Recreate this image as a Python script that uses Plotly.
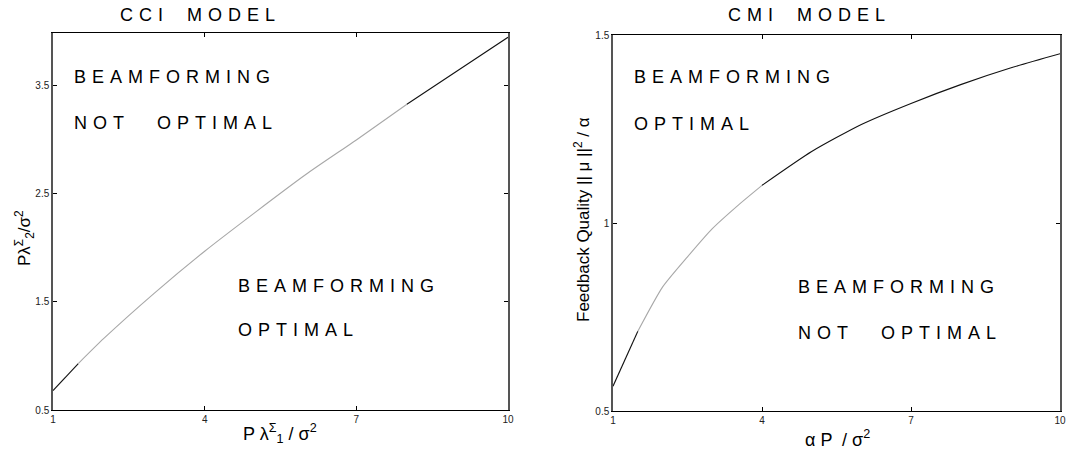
import plotly.graph_objects as go

# ---- data ----
cci_x = [1, 1.5, 2, 3, 4, 5, 6, 7, 8, 9, 10]
cci_y = [0.68, 0.93, 1.16, 1.58, 1.97, 2.33, 2.68, 3.0, 3.33, 3.64, 3.95]
cmi_x = [1, 1.5, 2, 2.5, 3, 3.5, 4, 5, 6, 7, 8, 9, 10]
cmi_y = [0.566, 0.712, 0.83, 0.91, 0.985, 1.045, 1.10, 1.19, 1.262, 1.318, 1.368, 1.412, 1.45]
x_ticks = [1, 4, 7, 10]
cci_yticks = [0.5, 1.5, 2.5, 3.5]
cmi_yticks = [0.5, 1, 1.5]

W, H = 1087, 454
def px(x):
    return x / W
def py(y):
    return 1 - y / H

SP = "\u2004"
WG = "\u2003\u2004"
WG2 = "\u2003\u2002\u2004"
def spaced(word):
    return SP.join(list(word))

fig = go.Figure()
DARK = "#111111"
LIGHT = "#a8a8a8"

def add_segments(xs, ys, cuts, colors, xa, ya):
    for (a, b), c in zip(cuts, colors):
        fig.add_trace(go.Scatter(x=xs[a:b], y=ys[a:b], mode="lines",
                                 line=dict(color=c, width=1.1, shape="spline", smoothing=0.6),
                                 xaxis=xa, yaxis=ya, showlegend=False,
                                 hoverinfo="skip"))

add_segments(cci_x, cci_y, [(0, 2), (1, 9), (8, 11)], [DARK, LIGHT, DARK], "x", "y")
add_segments(cmi_x, cmi_y, [(0, 2), (1, 7), (6, 13)], [DARK, LIGHT, DARK], "x2", "y2")

tickfont = dict(family="Liberation Sans, Arial, sans-serif", size=10, color="#222")
common_x = dict(tickmode="array", tickvals=x_ticks, ticktext=[str(v) for v in x_ticks],
                range=[1, 10], showgrid=False, zeroline=False, showline=True,
                linecolor="black", linewidth=1.2, mirror="ticks", ticks="inside",
                ticklen=4, tickcolor="black", tickfont=tickfont, automargin=False)
common_y = dict(showgrid=False, zeroline=False, showline=True,
                linecolor="#555", linewidth=1.5, mirror="ticks", ticks="inside",
                ticklen=4, tickcolor="black", tickfont=tickfont, tickmode="array",
                automargin=False)

fig.update_layout(
    width=W, height=H, margin=dict(l=0, r=0, t=0, b=0, pad=0, autoexpand=False),
    paper_bgcolor="white", plot_bgcolor="white", showlegend=False,
    xaxis=dict(domain=[px(53), px(508)], anchor="y", **common_x),
    yaxis=dict(domain=[py(410), py(33)], anchor="x", range=[0.5, 3.99],
               tickvals=cci_yticks, ticktext=["0.5", "1.5", "2.5", "3.5"], **common_y),
    xaxis2=dict(domain=[px(613), px(1060)], anchor="y2", **common_x),
    yaxis2=dict(domain=[py(411), py(35)], anchor="x2", range=[0.5, 1.5],
                tickvals=cmi_yticks, ticktext=["0.5", "1", "1.5"], **common_y),
)

FONT = "Liberation Sans, Arial, sans-serif"
def ann(text, x, y, size=18, xanchor="left", angle=0):
    fig.add_annotation(text=text, x=px(x), y=py(y), xref="paper", yref="paper",
                       xanchor=xanchor, yanchor="middle", showarrow=False,
                       textangle=angle,
                       font=dict(family=FONT, size=size, color="black"))

ann(spaced("CCI") + WG + spaced("MODEL"), 197, 15, size=18, xanchor="center")
ann(spaced("CMI") + WG + spaced("MODEL"), 806, 15, size=18, xanchor="center")
ann(spaced("BEAMFORMING"), 72, 77)
ann(spaced("NOT") + WG2 + spaced("OPTIMAL"), 72, 123)
ann(spaced("BEAMFORMING"), 236, 286)
ann(spaced("OPTIMAL"), 236, 330)
ann(spaced("BEAMFORMING"), 632, 77)
ann(spaced("OPTIMAL"), 632, 124)
ann(spaced("BEAMFORMING"), 796, 287)
ann(spaced("NOT") + WG2 + spaced("OPTIMAL"), 796, 333)
ann("P λ<sup>Σ</sup><sub>1</sub> / σ<sup>2</sup>", 280, 433, size=18, xanchor="center")
ann("Pλ<sup>Σ</sup><sub>2</sub>/σ<sup>2</sup>", 25, 238, size=17, xanchor="center", angle=-90)
ann("α P  / σ<sup>2</sup>", 837, 438, size=18, xanchor="center")
ann("Feedback Quality || μ ||<sup>2</sup> / α", 582, 220, size=17, xanchor="center", angle=-90)

post = "document.body.style.margin='0px';document.body.style.overflow='hidden';"
fig.write_html("out.html", post_script=post, config={"displayModeBar": False})
